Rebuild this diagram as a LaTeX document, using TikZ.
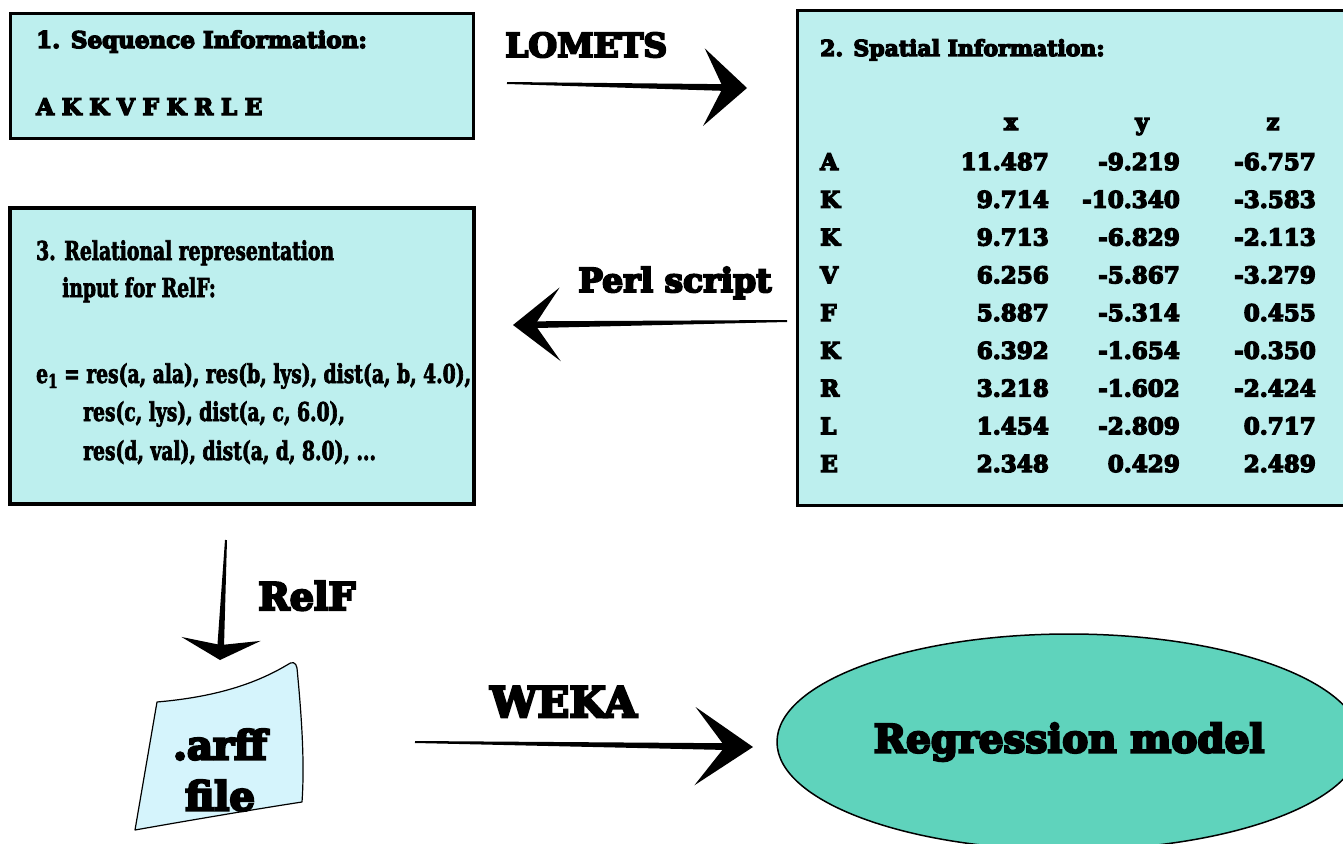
\documentclass[tikz,border=0pt]{standalone}
\usepackage{fontspec}
\usetikzlibrary{calc,shapes.geometric}
\newfontfamily\coop{DejaVu Serif}[BoldFeatures={FakeBold=6}]
\newfontfamily\cond{DejaVu Serif}[BoldFeatures={FakeStretch=0.72,FakeBold=2.5}]
\definecolor{boxfill}{RGB}{189,239,238}
\definecolor{filefill}{RGB}{213,244,252}
\definecolor{ellfill}{RGB}{95,211,188}
\newcommand\fsz[1]{\fontsize{#1}{#1}\selectfont}
% tail, tip, barb length, barb angle, notch distance
\newcommand\FatArr[5]{%
  \coordinate (fa-n) at ($(#2)!#5pt!(#1)$);
  \coordinate (fa-m) at ($(#2)!0.4*#5pt!(#1)$);
  \fill ($(#1)!1pt!90:(#2)$) -- ($(fa-m)!3.5pt!-90:(#1)$) -- ($(fa-m)!3.5pt!90:(#1)$) -- ($(#1)!1pt!-90:(#2)$) -- cycle;
  \fill (#2) -- ($(#2)!#3pt!#4:(#1)$) -- (fa-n) -- ($(#2)!#3pt!-#4:(#1)$) -- cycle;
}
\begin{document}
\begin{tikzpicture}[x=1pt,y=-1pt,
  box/.style={draw=black, line width=3pt, fill=boxfill, rectangle, inner sep=0pt},
  txt/.style={anchor=base west, inner sep=0pt, font=\coop\bfseries\fsz{22}},
  ctxt/.style={anchor=base west, inner sep=0pt, font=\cond\bfseries\fsz{26}},
  num/.style={anchor=base east, inner sep=0pt, font=\coop\bfseries\fsz{23}},
  hdr/.style={anchor=base, inner sep=0pt, font=\coop\bfseries\fsz{23}},
  lbl/.style={anchor=base west, inner sep=0pt, font=\coop\bfseries\fsz{#1}}]
\clip (0,0) rectangle (1343,843);
\fill[white] (0,0) rectangle (1343,843);

% boxes
\node[box, minimum width=463pt, minimum height=125pt] (b1) at (242,76) {};
\node[box, minimum width=568pt, minimum height=494pt] (b2) at (1081,258) {};
\node[box, line width=3.5pt, minimum width=464pt, minimum height=296pt] (b3) at (242,356) {};

% box 1
\node[txt, font=\coop\bfseries\fsz{23}] (t1) at (36,48) {1. Sequence Information:};
\node[txt, font=\coop\bfseries\fsz{23}] (seq) at (36,115) {A\,\,K\,\,K\,\,V\,\,F\,\,K\,\,R\,\,L\,\,E};

% box 2
\node[txt] (t2) at (820,56) {2. Spatial Information:};
\node[hdr] (hx) at (1011,130) {x};
\node[hdr] (hy) at (1142,130) {y};
\node[hdr] (hz) at (1273,130) {z};
\foreach \r/\x/\y/\z [count=\i from 0] in {
  A/11.487/-9.219/-6.757, K/9.714/-10.340/-3.583, K/9.713/-6.829/-2.113,
  V/6.256/-5.867/-3.279, F/5.887/-5.314/0.455, K/6.392/-1.654/-0.350,
  R/3.218/-1.602/-2.424, L/1.454/-2.809/0.717, E/2.348/0.429/2.489}{
  \node[txt, font=\coop\bfseries\fsz{23}] (r\i) at (820,170+37.75*\i) {\r};
  \node[num] (x\i) at (1049,170+37.75*\i) {\x};
  \node[num] (y\i) at (1180,170+37.75*\i) {\y};
  \node[num] (z\i) at (1316,170+37.75*\i) {\z};
}

% box 3
\node[ctxt] (t3a) at (36,260) {3. Relational representation};
\node[ctxt] (t3b) at (62,297) {input for RelF:};
\node[ctxt] (e1) at (36,383) {e\raisebox{-5pt}{\fsz{19}1} = res(a, ala), res(b, lys), dist(a, b, 4.0),};
\node[ctxt] (e2) at (83,421) {res(c, lys), dist(a, c, 6.0),};
\node[ctxt] (e3) at (83,460) {res(d, val), dist(a, d, 8.0), ...};

% file
\draw[line width=1.2pt, fill=filefill, line join=round]
  (157,702) .. controls (215,697) and (255,684) .. (287,665)
  .. controls (292,661) and (296,662) .. (297,668)
  .. controls (301,710) and (305,760) .. (302,802)
  .. controls (250,810) and (180,822) .. (135,830) -- cycle;
\node[align=center, inner sep=0pt, font=\coop\bfseries\fontsize{40}{51}\selectfont] (arff) at (220,770) {.arff\\file};

% ellipse
\node[ellipse, draw=black, line width=1.5pt, fill=ellfill, minimum width=584pt, minimum height=216pt, inner sep=0pt,
  font=\coop\bfseries\fsz{39}] (reg) at (1069,742) {Regression model};

% arrows
\coordinate (lomS) at (507,83);  \coordinate (lomE) at (747,88);
\coordinate (perS) at (787,321); \coordinate (perE) at (513,325);
\coordinate (relS) at (226,540); \coordinate (relE) at (220,660);
\coordinate (wekS) at (415,742); \coordinate (wekE) at (753,747);
\FatArr{lomS}{lomE}{58}{42}{24}
\FatArr{perS}{perE}{60}{38}{22}
\FatArr{relS}{relE}{45}{62}{15}
\FatArr{wekS}{wekE}{70}{34}{28}

\node[lbl=33] (lLOM) at (505,57) {LOMETS};
\node[lbl=33] (lPER) at (578,292) {Perl script};
\node[lbl=38] (lREL) at (258,610) {RelF};
\node[lbl=42] (lWEK) at (490,717) {WEKA};
\end{tikzpicture}
\end{document}
